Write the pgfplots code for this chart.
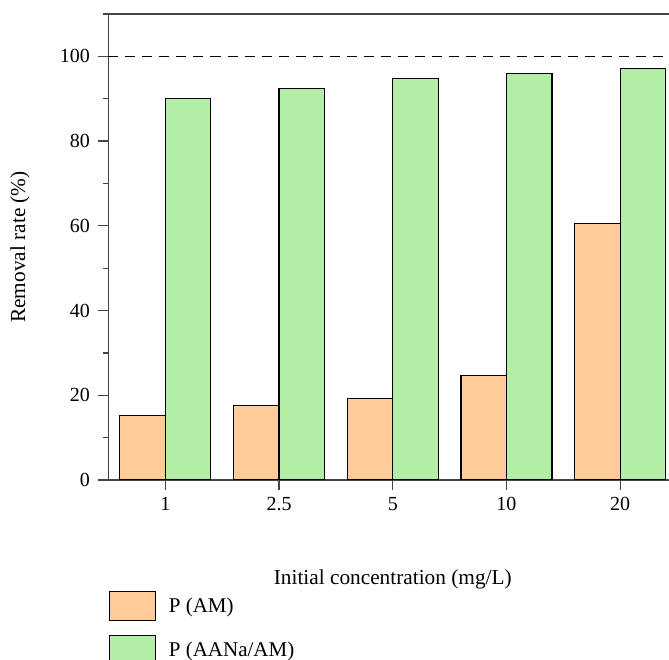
\documentclass[border=0pt]{standalone}
\usepackage{fontspec}
\setmainfont{Liberation Serif}
\usepackage{pgfplots}
\pgfplotsset{compat=1.18}
\definecolor{barorange}{HTML}{FFCC99}
\definecolor{bargreen}{HTML}{B3EEA6}
\definecolor{axgray}{HTML}{444444}
\begin{document}
\begin{tikzpicture}
\begin{axis}[
  at={(0,0)}, anchor=south west,
  scale only axis,
  width=568.5pt, height=466pt,
  xmin=-0.5, xmax=4.5,
  ymin=0, ymax=110,
  axis x line*=box, axis y line*=left,
  axis line style={line width=1.3pt, axgray},
  xtick={0,1,2,3,4},
  xticklabels={1,2.5,5,10,20},
  xtick pos=bottom,
  ytick={0,20,40,60,80,100},
  minor ytick={10,30,50,70,90,110},
  tick align=outside,
  major tick length=10pt,
  minor tick length=5pt,
  tick style={line width=1.2pt, axgray},
  font=\fontsize{20}{24}\selectfont,
  /pgf/number format/assume math mode=true,
  xticklabel style={font=\fontsize{20}{24}\selectfont, yshift=-4pt},
  yticklabel style={font=\fontsize{20}{24}\selectfont, xshift=-5pt},
  xlabel={Initial concentration (mg/L)},
  ylabel={Removal rate (\%)},
  xlabel style={at={(axis description cs:0.5,0)}, anchor=center, yshift=-99pt, font=\fontsize{21.3}{25}\selectfont},
  ylabel style={at={(axis description cs:0,0.5)}, anchor=center, yshift=88.5pt, font=\fontsize{21.3}{25}\selectfont},
  legend style={at={(0,0)}, anchor=north west, yshift=-110.7pt, draw=none, fill=none,
    inner sep=0pt, row sep=13.4pt, font=\fontsize{21}{25}\selectfont,
    nodes={inner sep=0pt},
    /tikz/every odd column/.append style={column sep=13pt}},
  legend cell align=left,
  legend image code/.code={\draw[#1, line width=1.2pt] (0pt,-15pt) rectangle (46pt,14.3pt);},
]
\addplot[ybar, bar width=0.4, bar shift=-0.2, fill=barorange, draw=black, line width=1.2pt]
  coordinates {(0,15.2) (1,17.6) (2,19.2) (3,24.6) (4,60.5)};
\addlegendentry{P (AM)}
\addplot[ybar, bar width=0.4, bar shift=0.2, fill=bargreen, draw=black, line width=1.2pt]
  coordinates {(0,90.0) (1,92.5) (2,94.7) (3,96.0) (4,97.2)};
\addlegendentry{P (AANa/AM)}
\addplot[sharp plot, forget plot, black, line width=1.2pt, dash pattern=on 10pt off 7pt]
  coordinates {(-0.5,100) (4.5,100)};
\end{axis}
\pgfresetboundingbox
\path[use as bounding box] (-108.5pt,-180pt) rectangle (560.5pt,480pt);
\end{tikzpicture}
\end{document}
